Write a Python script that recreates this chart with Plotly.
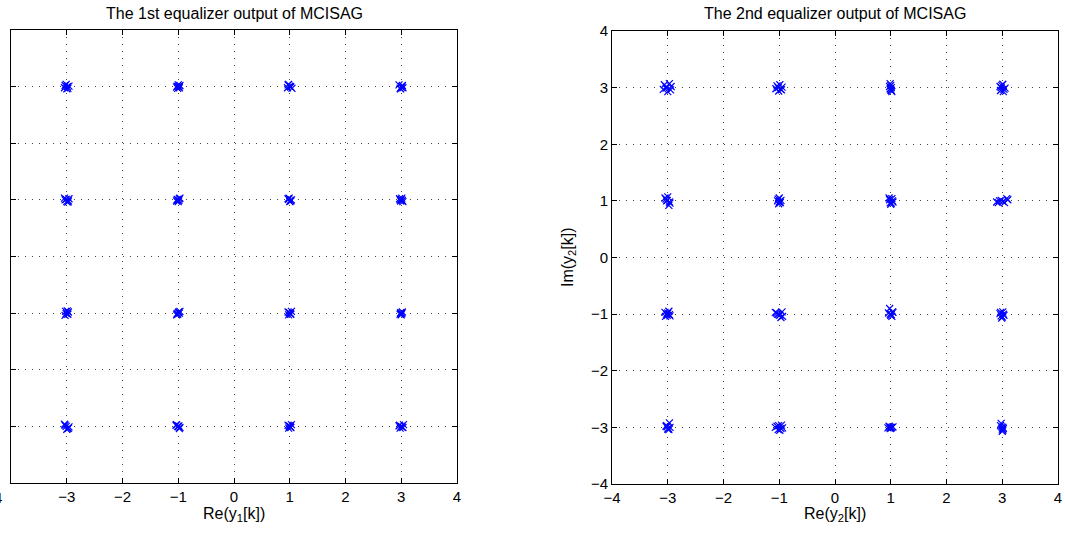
import plotly.graph_objects as go

# ---- data: 1st equalizer output (clusters at 16-QAM points) ----
eq1_re = [
    -3.03, -2.98, -3.01, -2.96, -3.04, -3.00, -2.99,
    -1.02, -0.98, -1.00, -1.03, -0.97, -1.01, -0.99,
    0.97, 1.02, 1.00, 1.04, 0.98, 1.01, 0.96,
    2.98, 3.02, 3.00, 2.96, 3.03, 3.01, 2.99,
    -3.04, -2.97, -3.01, -2.98, -3.03, -2.96, -3.00,
    -1.03, -0.98, -1.01, -0.97, -1.00, -1.02, -0.99,
    0.98, 1.02, 0.99, 1.03, 1.00, 0.97, 1.01,
    2.97, 3.02, 3.00, 3.03, 2.98, 3.01, 2.99,
    -3.02, -2.98, -3.00, -3.03, -2.97, -3.01, -2.99,
    -1.02, -0.99, -1.01, -0.98, -1.00, -1.03, -0.97,
    0.97, 1.02, 1.00, 1.03, 0.98, 1.01, 0.99,
    2.99, 3.01, 3.00, 2.98, 3.02, 3.00, 2.99,
    -3.04, -2.97, -3.01, -2.98, -3.03, -2.96, -3.00,
    -1.03, -0.97, -1.01, -0.98, -1.04, -1.00, -0.99,
    0.97, 1.02, 1.00, 1.03, 0.98, 1.01, 0.99,
    2.97, 3.03, 3.00, 3.04, 2.98, 3.01, 2.96,
]
eq1_im = [
    3.02, 2.97, 3.04, 3.01, 2.98, 2.96, 3.00,
    3.01, 2.98, 3.03, 2.99, 3.02, 2.97, 3.00,
    3.03, 2.99, 3.01, 2.97, 3.04, 3.00, 2.98,
    2.97, 3.02, 2.99, 3.03, 2.98, 3.00, 2.96,
    1.03, 0.98, 1.01, 0.96, 1.00, 1.02, 0.97,
    0.98, 1.02, 1.00, 1.03, 0.97, 1.01, 0.99,
    1.01, 0.98, 1.03, 1.00, 0.97, 1.02, 0.99,
    1.02, 0.99, 1.01, 0.97, 1.00, 1.03, 0.98,
    -0.97, -1.02, -1.00, -1.04, -0.98, -1.01, -0.96,
    -1.01, -0.98, -1.02, -1.00, -0.99, -1.03, -0.97,
    -0.98, -1.02, -1.00, -0.97, -1.03, -1.01, -0.99,
    -0.99, -1.01, -1.00, -1.02, -0.98, -1.03, -1.00,
    -2.96, -3.03, -3.00, -3.04, -2.98, -3.01, -3.05,
    -2.97, -3.02, -3.00, -3.04, -2.98, -3.01, -2.99,
    -2.98, -3.02, -3.00, -2.97, -3.03, -3.01, -2.99,
    -2.98, -3.02, -3.00, -2.97, -3.03, -3.01, -2.99,
]

# ---- data: 2nd equalizer output ----
eq2_re = [
    -3.06, -2.95, -3.02, -2.97, -3.08, -3.00, -2.94, -3.03,
    -1.04, -0.97, -1.01, -0.95, -1.06, -0.99, -1.02, -0.96,
    0.99, 1.01, 0.98, 1.02, 1.00, 0.99, 1.01, 1.00,
    2.96, 3.03, 2.99, 3.05, 2.97, 3.01, 3.02, 2.98,
    -3.05, -2.96, -3.01, -2.98, -3.03, -2.97, -3.00, -3.02,
    -1.02, -0.98, -1.00, -0.99, -1.01, -0.97, -1.03, -1.00,
    0.97, 1.04, 1.00, 0.98, 1.03, 0.99, 1.02, 1.01,
    2.90, 3.08, 2.95, 3.04, 3.10, 2.98, 3.01, 2.93,
    -3.05, -2.96, -3.02, -2.98, -3.04, -3.00, -2.97, -3.01,
    -1.07, -0.94, -1.03, -0.97, -1.05, -0.99, -0.95, -1.01,
    0.98, 1.03, 1.00, 0.96, 1.02, 0.99, 1.04, 1.01,
    2.97, 3.03, 3.00, 2.96, 3.02, 2.99, 3.01, 2.98,
    -2.97, -3.03, -3.00, -2.96, -3.02, -2.99, -3.01, -2.98,
    -1.07, -0.96, -1.02, -0.94, -1.04, -0.99, -1.01, -0.97,
    0.95, 1.04, 0.99, 1.02, 0.97, 1.01, 1.00, 0.98,
    2.98, 3.01, 2.99, 3.02, 3.00, 2.97, 3.01, 3.00,
]
eq2_im = [
    3.05, 2.96, 3.01, 3.07, 2.97, 2.93, 3.02, 2.99,
    3.03, 2.97, 2.94, 3.01, 2.98, 3.05, 3.00, 2.96,
    3.07, 2.95, 3.02, 2.93, 3.04, 2.98, 3.00, 2.96,
    3.02, 2.97, 3.04, 2.99, 2.95, 3.06, 2.93, 3.00,
    1.05, 0.96, 1.01, 0.92, 1.03, 0.98, 1.07, 1.00,
    1.03, 0.97, 1.05, 0.99, 0.95, 1.01, 1.00, 0.98,
    1.05, 0.98, 0.94, 1.02, 1.00, 0.97, 1.04, 0.96,
    0.98, 1.04, 1.00, 0.97, 1.02, 1.01, 0.99, 0.97,
    -0.97, -1.03, -1.00, -0.95, -1.04, -0.98, -1.01, -1.02,
    -0.97, -1.04, -1.00, -1.06, -0.98, -1.02, -0.96, -1.01,
    -0.90, -0.96, -1.02, -0.98, -1.04, -1.00, -0.97, -1.01,
    -0.97, -1.02, -1.05, -0.99, -1.00, -1.07, -0.96, -1.03,
    -2.92, -2.98, -3.03, -3.00, -2.97, -3.02, -2.99, -3.04,
    -3.00, -2.96, -3.04, -3.01, -2.98, -3.05, -2.97, -3.02,
    -3.01, -2.99, -3.02, -3.00, -2.98, -3.01, -3.00, -2.99,
    -2.93, -3.05, -2.99, -3.02, -3.07, -2.97, -3.00, -3.03,
]

tick_vals = [-4, -3, -2, -1, 0, 1, 2, 3, 4]
tick_text = ["\u22124", "\u22123", "\u22122", "\u22121", "0", "1", "2", "3", "4"]
tick_text_left = [""] + tick_text[1:]   # the -4 label of the left panel is cut off
titles = ["The 1st equalizer output of MCISAG", "The 2nd equalizer output of MCISAG"]

W, H = 1065, 535
FONT = "Liberation Sans, Arial, Helvetica, sans-serif"

def px(x):
    return x / W

def py(y):
    return 1 - y / H

marker = dict(symbol="x-thin", size=7, color="#0000FF", line=dict(color="#0000FF", width=1.2))

fig = go.Figure()
fig.add_trace(go.Scatter(x=eq1_re, y=eq1_im, mode="markers", marker=marker,
                         xaxis="x", yaxis="y", showlegend=False))
fig.add_trace(go.Scatter(x=eq2_re, y=eq2_im, mode="markers", marker=marker,
                         xaxis="x2", yaxis="y2", showlegend=False))

ax = dict(range=[-4, 4], tickvals=tick_vals, ticktext=tick_text, showline=True,
          linecolor="black", linewidth=1,
          mirror="ticks", ticks="inside", ticklen=5, tickcolor="black", tickwidth=1,
          showgrid=True, gridcolor="#444", gridwidth=1, griddash="1px,6px",
          zeroline=False, ticklabeloverflow="allow",
          tickfont=dict(family=FONT, size=15, color="black"))

fig.update_layout(
    width=W, height=H,
    margin=dict(l=0, r=0, t=0, b=0, autoexpand=False),
    paper_bgcolor="white", plot_bgcolor="white",
    font=dict(family=FONT, color="black"),
    xaxis=dict(ax, domain=[px(11), px(457)], anchor="y", ticktext=tick_text_left),
    yaxis=dict(ax, domain=[py(483), py(30)], anchor="x", showticklabels=False),
    xaxis2=dict(ax, domain=[px(612), px(1058)], anchor="y2"),
    yaxis2=dict(ax, domain=[py(484), py(31)], anchor="x2"),
)

def label(text, x, y, size=16, angle=0, xanchor="center"):
    return dict(text=text, x=px(x), y=py(y), xref="paper", yref="paper",
                xanchor=xanchor, yanchor="middle", showarrow=False, textangle=angle,
                font=dict(size=size, family=FONT, color="black"))

ann = [
    label(titles[0], 234, 14),
    label(titles[1], 835, 14),
    label("Re(y<sub>1</sub>[k])", 234, 514),
    label("Re(y<sub>2</sub>[k])", 835, 514),
    label("Im(y<sub>2</sub>[k])", 568, 257, angle=-90),
    label("4", 4, 497, size=15, xanchor="right"),
]
fig.update_layout(annotations=ann)

fig.write_html("out.html", config={"displayModeBar": False},
               post_script="document.body.style.margin='0px';document.body.style.overflow='hidden';")
